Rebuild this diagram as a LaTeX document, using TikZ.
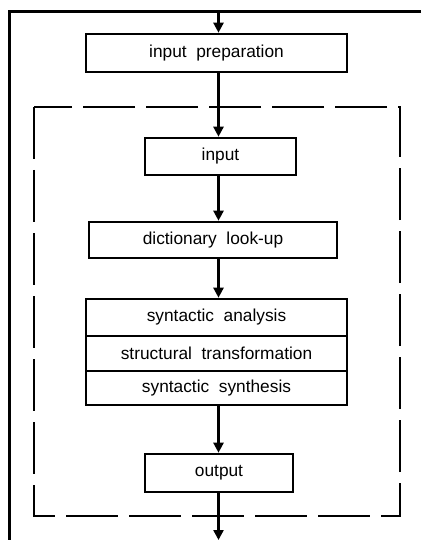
\documentclass[tikz,border=0pt]{standalone}
\usepackage{fontspec}
\setmainfont{Liberation Sans}[WordSpace=2]
\usetikzlibrary{arrows.meta}
\begin{document}
\begin{tikzpicture}[x=1pt,y=-1pt,
  box/.style={draw,line width=2.6pt,inner sep=0pt,font=\fontsize{17.3}{20}\selectfont},
  arr/.style={line width=2.4pt,-{Triangle[width=10pt,length=10pt]}},
  frame/.style={line width=3pt},
  dashbox/.style={line width=2.6pt,dash pattern=on 52pt off 11pt}]
\useasboundingbox (0,0) rectangle (421,540);
% outer frame (top and left only)
\coordinate (frTR) at (421,12);
\coordinate (frTL) at (9,12);
\coordinate (frBL) at (9,540);
\draw[frame] (frTR) -- (frTL) -- (frBL);
% inner dashed boundary
\coordinate (dbA) at (34,107);
\coordinate (dbB) at (400,516);
\draw[dashbox] (dbA) rectangle (dbB);
% boxes
\node[box,minimum width=261pt,minimum height=38pt] (ip) at (216.5,53) {input preparation};
\node[box,minimum width=151pt,minimum height=37pt] (in) at (220.5,156.5) {input};
\node[box,minimum width=248pt,minimum height=36pt] (dl) at (213,240) {dictionary look-up};
\node[box,minimum width=261pt,minimum height=37pt] (sa) at (216.5,317.5) {syntactic analysis};
\node[box,minimum width=261pt,minimum height=35pt] (st) at (216.5,353.5) {structural transformation};
\node[box,minimum width=261pt,minimum height=34pt] (ss) at (216.5,388) {syntactic synthesis};
\node[box,minimum width=148pt,minimum height=38pt] (out) at (219,473) {output};
% arrow axis
\coordinate (top) at (218.5,12);
\coordinate (bot) at (218.5,540);
\draw[arr] (top) -- (top |- ip.north);
\draw[arr] (ip.south -| top) -- (in.north -| top);
\draw[arr] (in.south -| top) -- (dl.north -| top);
\draw[arr] (dl.south -| top) -- (sa.north -| top);
\draw[arr] (ss.south -| top) -- (out.north -| top);
\draw[arr] (out.south -| top) -- (bot);
\end{tikzpicture}
\end{document}
